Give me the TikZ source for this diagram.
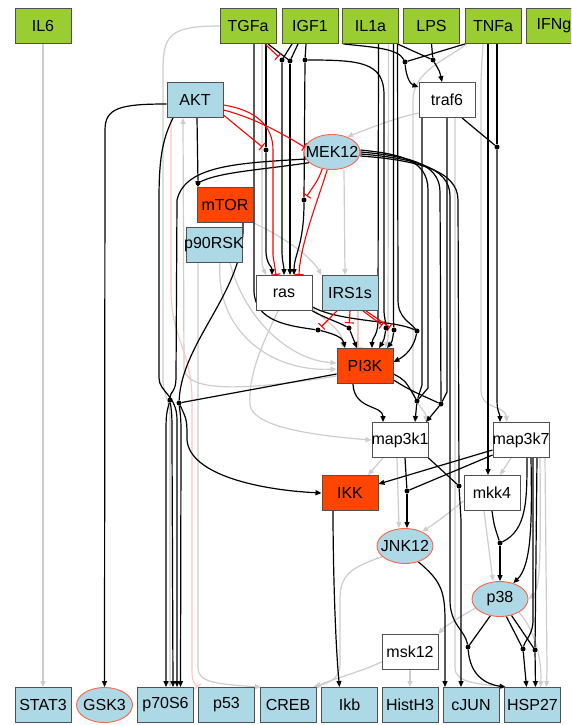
\documentclass[tikz,border=0pt]{standalone}
\usepackage{fontspec}
\setmainfont{Liberation Sans}
\usetikzlibrary{shapes.geometric,arrows.meta}

\definecolor{stimgreen}{RGB}{154,205,50}
\definecolor{sigblue}{RGB}{173,216,230}
\definecolor{inhorange}{RGB}{255,69,0}
\definecolor{ellborder}{RGB}{255,99,71}
\definecolor{boxborder}{RGB}{80,80,80}
\definecolor{fadegray}{RGB}{205,205,205}
\definecolor{fadepink}{RGB}{255,195,195}

\pgfdeclarelayer{edges}
\pgfsetlayers{edges,main}

\tikzset{
  box/.style={rectangle, draw=boxborder, line width=0.9pt, minimum width=56pt, minimum height=35pt, inner sep=0pt, font=\fontsize{16}{19}\selectfont, execute at begin node={\hbox to 0pt\bgroup\hss}, execute at end node={\hss\egroup}},
  stim/.style={box, fill=stimgreen},
  sig/.style={box, fill=sigblue},
  cut/.style={box, fill=inhorange},
  free/.style={box, fill=white},
  readout/.style={box, ellipse, draw=ellborder, fill=sigblue},
  gate/.style={circle, fill=black, inner sep=0pt, minimum size=5pt},
  act/.style={draw=black, line width=1.2pt, -{Triangle[length=6pt,width=5pt]}},
  link/.style={draw=black, line width=1.2pt},
  gact/.style={draw=fadegray, line width=1.2pt, -{Triangle[length=6pt,width=5pt]}},
  inh/.style={draw=red, line width=1.1pt, -{Bar[width=9pt]}},
  pinh/.style={draw=fadepink, line width=1.1pt, -{Bar[width=9pt]}},
}

\begin{document}
\begin{tikzpicture}[x=1pt,y=-1pt]
\useasboundingbox (0,0) rectangle (571,725);
\clip (0,0) rectangle (571,725);

% stimuli
\node[stim] (IL6) at (43,26) {IL6};
\node[stim] (TGFa) at (248,26) {TGFa};
\node[stim] (IGF1) at (310,26) {IGF1};
\node[stim] (IL1a) at (370.5,26) {IL1a};
\node[stim] (LPS) at (431.5,26) {LPS};
\node[stim] (TNFa) at (493,26) {TNFa};
\node[stim] (IFNg) at (554,26) {IFNg};

% signalling species
\node[sig] (AKT) at (195,100) {AKT};
\node[free] (traf6) at (447,100) {traf6};
\node[readout] (MEK12) at (332,152) {MEK12};
\node[cut] (mTOR) at (225,205) {mTOR};
\node[sig] (p90RSK) at (214,245) {p90RSK};
\node[free] (ras) at (284,293) {ras};
\node[sig] (IRS1s) at (350,293) {IRS1s};
\node[cut] (PI3K) at (365,366) {PI3K};
\node[free] (map3k1) at (400,440) {map3k1};
\node[free] (map3k7) at (521,440) {map3k7};
\node[cut] (IKK) at (350,493) {IKK};
\node[free] (mkk4) at (492,493) {mkk4};
\node[readout] (JNK12) at (405,546) {JNK12};
\node[readout] (p38) at (500,599) {p38};
\node[free] (msk12) at (410,652) {msk12};

% readouts
\node[sig] (STAT3) at (43,705) {STAT3};
\node[readout] (GSK3) at (104.5,705) {GSK3};
\node[sig] (p70S6) at (165.5,705) {p70S6};
\node[sig] (p53) at (226.5,705) {p53};
\node[sig] (CREB) at (288,705) {CREB};
\node[sig] (Ikb) at (349.5,705) {Ikb};
\node[sig] (HistH3) at (410,705) {HistH3};
\node[sig] (cJUN) at (471,705) {cJUN};
\node[sig] (HSP27) at (532.5,705) {HSP27};

% and gates
\node[gate] (g1) at (282,60) {};
\node[gate] (g2) at (290,61) {};
\node[gate] (g3) at (305,60) {};
\node[gate] (g4) at (405,62) {};
\node[gate] (g5) at (433,60) {};
\node[gate] (g6) at (497,147) {};
\node[gate] (gA) at (198,183) {};
\node[gate] (gR) at (266,150) {};
\node[gate] (gM) at (304,200) {};
\node[gate] (gP1) at (170,400) {};
\node[gate] (gP2) at (179,403) {};
\node[gate] (gI1) at (318,330) {};
\node[gate] (gI2) at (349,328) {};
\node[gate] (gI3) at (386,328) {};
\node[gate] (gI5) at (394,330) {};
\node[gate] (gI4) at (417,331) {};
\node[gate] (gK1) at (417,401) {};
\node[gate] (gK2) at (441,404) {};
\node[gate] (gK3) at (459,486) {};
\node[gate] (gJ) at (407,491) {};
\node[gate] (gP) at (500,543) {};
\node[gate] (g38a) at (468,647) {};
\node[gate] (g38b) at (523,649) {};
\node[gate] (g38c) at (535,650) {};

\begin{pgfonlayer}{edges}
% links not in the model
\draw[gact] (IL6.south) -- (STAT3.north);
\draw[gact] (TGFa.west) .. controls (170,26) and (163,35) .. (163,70) -- (163,380) .. controls (163,395) and (170,398) .. (170,420) -- ([xshift=4.5pt]p70S6.north);
\draw[gact] ([yshift=-10pt]PI3K.west) .. controls (260,388) and (190,395) .. (184,370) -- ([xshift=-12pt]AKT.south);
\draw[gact] ([yshift=-13pt]traf6.west) .. controls (395,118) and (370,128) .. (MEK12.45);
\draw[gact] (mTOR.south east) .. controls (280,235) and (310,255) .. (IRS1s.north west);
\draw[gact] ([xshift=12pt]MEK12.south) -- ([xshift=-5pt]IRS1s.north);
\draw[gact] ([yshift=2pt]ras.south east) .. controls (325,320) and (342,330) .. ([xshift=-22pt]PI3K.north);
\draw[gact] ([xshift=-6pt]ras.south) .. controls (262,345) and (248,375) .. (250,405) .. controls (253,428) and (320,436) .. (map3k1.west);
\draw[gact] ([xshift=16pt]p90RSK.south) .. controls (245,320) and (290,360) .. ([yshift=3pt]PI3K.west);
\draw[gact] ([xshift=6pt]p90RSK.south) .. controls (215,330) and (270,372) .. ([yshift=-3pt]PI3K.west);
\draw[gact] ([xshift=-16pt]p90RSK.south) -- (198,668) .. controls (198,682) and (215,684) .. ([xshift=-27pt]CREB.north);
\draw[gact] (JNK12.205) .. controls (350,568) and (340,575) .. (340,600) -- (340,665) .. controls (340,680) and (325,684) .. ([xshift=25pt]CREB.north);
\draw[gact] ([yshift=-10pt]msk12.west) .. controls (360,672) and (330,680) .. ([xshift=27pt]CREB.north);
\draw[gact] (msk12.south) -- (HistH3.north);
\draw[gact] (p38.200) .. controls (465,614) and (445,626) .. (msk12.north east);
\draw[gact] ([yshift=-8pt]mkk4.west) .. controls (450,512) and (440,520) .. (JNK12.40);
\draw[gact] ([xshift=-17pt]map3k1.south) -- ([xshift=18pt]IKK.north);
\draw[gact] ([xshift=-3pt]map3k1.south) -- ([xshift=-6pt]JNK12.north);
\draw[gact] ([xshift=-10pt]map3k7.south) -- ([xshift=8pt]mkk4.north);
\draw[gact] ([xshift=-8pt]mkk4.south) -- ([xshift=-7pt]p38.north);
\draw[gact] ([xshift=24pt]map3k7.south) -- (547,668) -- ([xshift=14pt]HSP27.north);
\draw[gact] ([xshift=19pt]map3k7.south) .. controls (541,560) and (540,590) .. (p38.east);
\draw[gact] ([xshift=-26pt]TNFa.south) .. controls (445,60) and (413,72) .. (413,100) -- (413,385) .. controls (413,405) and (426,410) .. ([xshift=26pt]map3k1.north);
\draw[gact] ([xshift=-10pt]TNFa.south) .. controls (482,60) .. (481,80) -- (481,390) .. controls (481,410) and (505,405) .. ([xshift=-14pt]map3k7.north);
\draw[gact] ([xshift=8pt]traf6.south) -- (455,668) .. controls (455,683) and (480,684) .. ([xshift=-26pt]HSP27.north);
\draw[gact] (p38.-35) .. controls (535,630) and (542,660) .. ([xshift=8pt]HSP27.north);
\draw[gact] ([xshift=18pt]IL1a.south) -- (388,330) .. controls (388,340) .. ([xshift=20pt]PI3K.north);
\draw[gact] ([xshift=14pt]TGFa.south) -- (262,255) .. controls (262,265) .. ([xshift=-18pt]ras.north);
\draw[pinh] ([xshift=-24pt]AKT.south) -- (171,290) .. controls (171,340) and (192,350) .. (192,400) -- (192,668) .. controls (192,680) .. ([xshift=-29pt]p53.north);
\draw[pinh] ([xshift=8pt]IRS1s.south) -- ([xshift=-7pt]PI3K.north);

% activations
\draw[act] ([yshift=-4pt]AKT.west) .. controls (120,104) and (105,108) .. (105,130) -- (GSK3.north);
\draw[link] ([xshift=2pt]AKT.south) -- (gA);
\draw[act] (gA) -- (gA |- mTOR.north);
\draw[link] (MEK12.205) .. controls (260,170) and (220,172) .. (gA);
\draw[link] (MEK12.195) .. controls (240,163) and (185,165) .. (177,200) -- (176,378) .. controls (176,392) and (170,392) .. (gP1);
\draw[act] ([xshift=-22pt]AKT.south) .. controls (162,140) and (159,160) .. (159,200) -- (159,378) .. controls (159,392) and (177,395) .. (177,420) -- (177,672) -- ([xshift=11.5pt]p70S6.north);
\draw[link] ([xshift=18pt]mTOR.south) .. controls (246,290) and (182,340) .. (gP2);
\draw[act] (gP1) .. controls (166,415) .. (166,440) -- ([xshift=0.5pt]p70S6.north);
\draw[act] (gP1) .. controls (172,415) .. (172,440) -- ([xshift=7.5pt]p70S6.north);
\draw[link] ([yshift=-8pt]PI3K.west) -- (gP2);
\draw[act] (gP2) .. controls (187,420) .. (187,440) .. controls (190,475) and (260,490) .. (IKK.west);
\draw[act] (gP2) .. controls (181,420) .. (181,440) -- ([xshift=15pt]p70S6.north);

\draw[link] ([xshift=6pt]TGFa.south) -- (254,290) .. controls (254,322) and (290,326) .. (gI1);
\draw[link] ([xshift=18pt]TGFa.south) -- (gR);
\draw[act] (gR) -- (266,250) .. controls (266,265) and (272,266) .. ([xshift=-12pt]ras.north);
\draw[link] ([xshift=20pt]TGFa.south) -- (g2);
\draw[link] ([xshift=-18pt]IGF1.south) -- (g1);
\draw[link] ([xshift=-12pt]IGF1.south) -- (g2);
\draw[act] (g1) -- (282,250) .. controls (282,262) and (284,266) .. (ras.north);
\draw[act] (g2) -- (290,250) .. controls (290,262) .. ([xshift=6pt]ras.north);
\draw[link] ([xshift=-4pt]IGF1.south) -- (g3);
\draw[link] (g3) -- (gM);
\draw[act] (gM) .. controls (304,245) and (294,255) .. ([xshift=10pt]ras.north);
\draw[link] (g3) .. controls (360,60) and (384,62) .. (384,95) -- (384,310) .. controls (384,318) and (386,322) .. (gI3);

\draw[act] ([xshift=8pt]IL1a.south) -- (378,320) .. controls (378,336) and (372,338) .. ([xshift=7pt]PI3K.north);
\draw[link] ([xshift=23pt]IL1a.south) -- (393.5,320) -- (gI5);
\draw[link] ([xshift=27pt]IL1a.south) -- (398,300) .. controls (398,318) and (410,322) .. (gI4);
\draw[act] (gI1) .. controls (335,334) and (343,338) .. ([xshift=-20pt]PI3K.north);
\draw[act] (gI2) -- ([xshift=-8pt]PI3K.north);
\draw[act] (gI3) .. controls (384,340) .. ([xshift=14pt]PI3K.north);
\draw[act] (gI5) .. controls (392,342) .. ([xshift=22pt]PI3K.north);
\draw[act] (gI4) .. controls (414,348) and (405,356) .. ([yshift=4pt]PI3K.east);
\draw[link] (ras.south east) .. controls (325,318) and (338,322) .. (gI2);
\draw[link] ([yshift=4pt]ras.south east) .. controls (340,322) and (395,320) .. (gI4);

\draw[link] ([yshift=2pt]MEK12.east) .. controls (400,154) and (428,160) .. (428,190) -- (428,388) -- (gK1);
\draw[link] (MEK12.east) .. controls (405,156) and (440,162) .. (440,192) -- (gK2);
\draw[link] ([yshift=-2pt]MEK12.east) .. controls (410,158) and (450,166) .. (450,196) -- (450,600) .. controls (450,625) and (465,630) .. (g38a);
\draw[link] ([yshift=-4pt]MEK12.east) .. controls (415,160) and (458,170) .. (458,200) -- (gK3);
\draw[link] (map3k1.south east) -- (gK3);
\draw[act] (gK3) -- (461,520) -- ([xshift=-10pt]cJUN.north);

\draw[link] ([xshift=-25pt]traf6.south) -- (422,385) -- (gK1);
\draw[link] (traf6.south) -- (447,392) -- (gK2);
\draw[link] ([xshift=15pt]traf6.south) -- (g6);
\draw[link] ([xshift=4pt]TNFa.south) -- (g6);
\draw[act] (g6) -- (497,400) .. controls (497,412) and (500,414) .. ([xshift=-21pt]map3k7.north);
\draw[act] ([xshift=-5pt]TNFa.south) -- (488,465) -- ([xshift=-4pt]mkk4.north);
\draw[link] ([xshift=-27pt]IL1a.south) .. controls (370,47) and (398,48) .. (g4);
\draw[link] ([xshift=-28pt]TNFa.south) -- (g4);
\draw[act] (g4) .. controls (406,76) and (410,84) .. ([yshift=13pt]traf6.west);
\draw[link] (LPS.south) -- (g5);
\draw[link] ([xshift=27pt]IL1a.south) -- (g5);
\draw[act] (g5) .. controls (440,72) .. ([xshift=-5pt]traf6.north);

\draw[act] ([xshift=-12pt]PI3K.south) .. controls (354,410) and (383,405) .. ([xshift=-17pt]map3k1.north);
\draw[link] ([yshift=-8pt]PI3K.east) .. controls (405,380) .. (gK1);
\draw[link] ([yshift=-14pt]PI3K.east) .. controls (410,390) .. (gK2);
\draw[act] (gK1) -- ([xshift=15pt]map3k1.north);
\draw[act] (gK2) -- ([xshift=26pt]map3k1.north);
\draw[act] ([yshift=-10pt]map3k7.west) -- ([yshift=9pt]IKK.east);
\draw[link] ([yshift=-15pt]map3k7.west) -- (gJ);
\draw[link] ([xshift=5pt]map3k1.south) -- (gJ);
\draw[act] (gJ) -- ([xshift=2pt]JNK12.north);
\draw[link] (mkk4.south) .. controls (494,525) .. (gP);
\draw[link] ([xshift=6pt]map3k7.south) .. controls (527,500) and (527,530) .. (gP);
\draw[act] (gP) -- (p38.north);
\draw[act] ([xshift=10pt]map3k7.south) .. controls (532,520) and (532,565) .. (p38.50);
\draw[link] ([xshift=12pt]map3k7.south) -- (533,620) .. controls (533,635) and (525,640) .. (g38b);
\draw[link] ([xshift=16pt]map3k7.south) -- (g38c);
\draw[link] (p38.-70) -- (g38b);
\draw[link] (p38.-55) -- (g38c);
\draw[link] (p38.240) -- (g38a);
\draw[act] (g38a) .. controls (470,675) and (485,684) .. ([xshift=-27pt]HSP27.north);
\draw[act] (g38b) -- ([xshift=-6pt]HSP27.north);
\draw[act] (g38c) -- ([xshift=3pt]HSP27.north);
\draw[act] (JNK12.-50) .. controls (440,580) and (445,590) .. (445,620) -- ([xshift=-26pt]cJUN.north);
\draw[act] ([xshift=-17pt]IKK.south) .. controls (333,560) and (335,640) .. ([xshift=-10pt]Ikb.north);

% inhibitions
\draw[inh] ([yshift=-5pt]AKT.east) .. controls (255,110) and (273,125) .. (273,150) -- (273,255) -- ([xshift=-8pt]ras.north);
\draw[inh] ([yshift=-10pt]AKT.east) .. controls (255,118) and (285,135) .. (MEK12.170);
\draw[inh, shorten >=2pt] ([yshift=-15pt]AKT.east) -- (gR);
\draw[inh] (MEK12.255) .. controls (318,200) and (300,245) .. ([xshift=15pt]ras.north);
\draw[inh, shorten >=2pt] (MEK12.240) .. controls (318,180) .. (gM);
\draw[inh, shorten >=2pt] ([xshift=17pt]TGFa.south) -- (g1);
\draw[inh, shorten >=2pt] ([xshift=-13pt]IRS1s.south) -- (gI1);
\draw[inh, shorten >=2pt] (IRS1s.south) -- (gI2);
\draw[inh, shorten >=2pt] ([xshift=13pt]IRS1s.south) -- (gI3);
\draw[inh, shorten >=2pt] ([xshift=16pt]IRS1s.south) -- (gI5);
\end{pgfonlayer}

\end{tikzpicture}
\end{document}
